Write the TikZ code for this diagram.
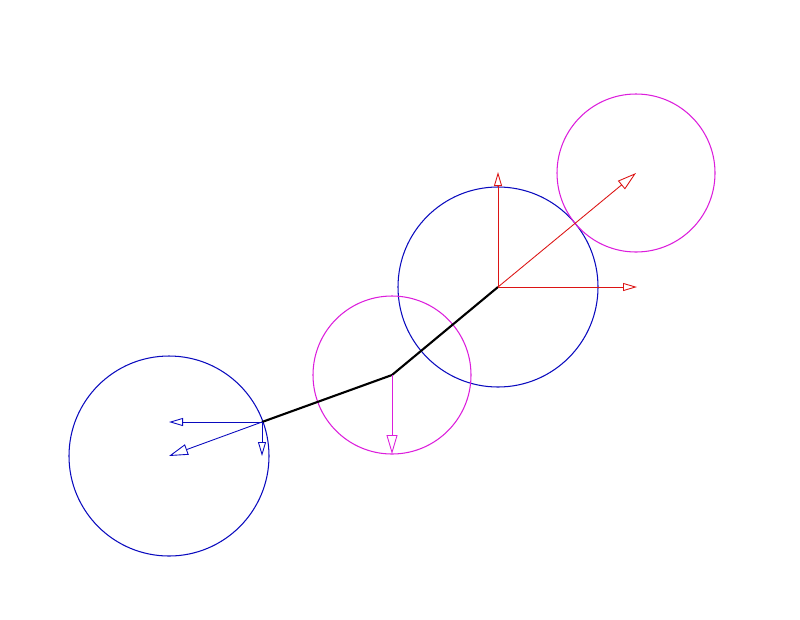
\documentclass[tikz,border=0pt]{standalone}
\usepackage{tikz}
\usetikzlibrary{arrows.meta}
\tikzstyle{plane} = [x = 0.02cm, y = -0.02cm]
\definecolor{bodyBlue}{RGB}{10,10,190}
\definecolor{bodyMagenta}{RGB}{220,30,220}
\definecolor{vectorRed}{RGB}{220,20,20}
\tikzstyle{bodyStyle} = [line width = .6pt]
\tikzstyle{linkLine} = [color=black, line width = 1.2pt]
\tikzstyle{smallHead} = [line width = .5pt, -{Triangle[open, length = 14*0.02cm, width = 8*0.02cm]}]
\tikzstyle{largeHead} = [line width = .5pt, -{Triangle[open, length = 19*0.02cm, width = 11*0.02cm]}]
\newcommand{\bodyCircle}[3]{\draw [bodyStyle, color=#3] (#1) circle (#2);}
\newcommand{\vectorArrow}[4]{\draw [#4, color=#3] (#1) -- (#2);}

\begin{document}
\begin{tikzpicture}[plane]
      \useasboundingbox (0,0) rectangle (800,619);
      % points
      \coordinate (baseCenter) at (169,456);
      \coordinate (tipCenter) at (498,287);
      \coordinate (elbowCenter) at (392,375);
      \coordinate (goalCenter) at (636,173);
      \coordinate (shoulder) at (262,422);
      \coordinate (baseLeft) at (169,422);
      \coordinate (baseDown) at (262,456);
      \coordinate (elbowDown) at (392,454);
      \coordinate (tipUp) at (498,172);
      \coordinate (tipRight) at (637,287);

      \bodyCircle{baseCenter}{100}{bodyBlue}
      \bodyCircle{tipCenter}{100}{bodyBlue}
      \bodyCircle{elbowCenter}{79}{bodyMagenta}
      \bodyCircle{goalCenter}{79}{bodyMagenta}

      \draw[linkLine] (shoulder) -- (elbowCenter) -- (tipCenter);

      \vectorArrow{shoulder}{baseLeft}{bodyBlue}{smallHead}
      \vectorArrow{shoulder}{baseCenter}{bodyBlue}{largeHead}
      \vectorArrow{shoulder}{baseDown}{bodyBlue}{smallHead}
      \vectorArrow{elbowCenter}{elbowDown}{bodyMagenta}{largeHead}
      \vectorArrow{tipCenter}{tipUp}{vectorRed}{smallHead}
      \vectorArrow{tipCenter}{tipRight}{vectorRed}{smallHead}
      \vectorArrow{tipCenter}{goalCenter}{vectorRed}{largeHead}
    \end{tikzpicture}
\end{document}
